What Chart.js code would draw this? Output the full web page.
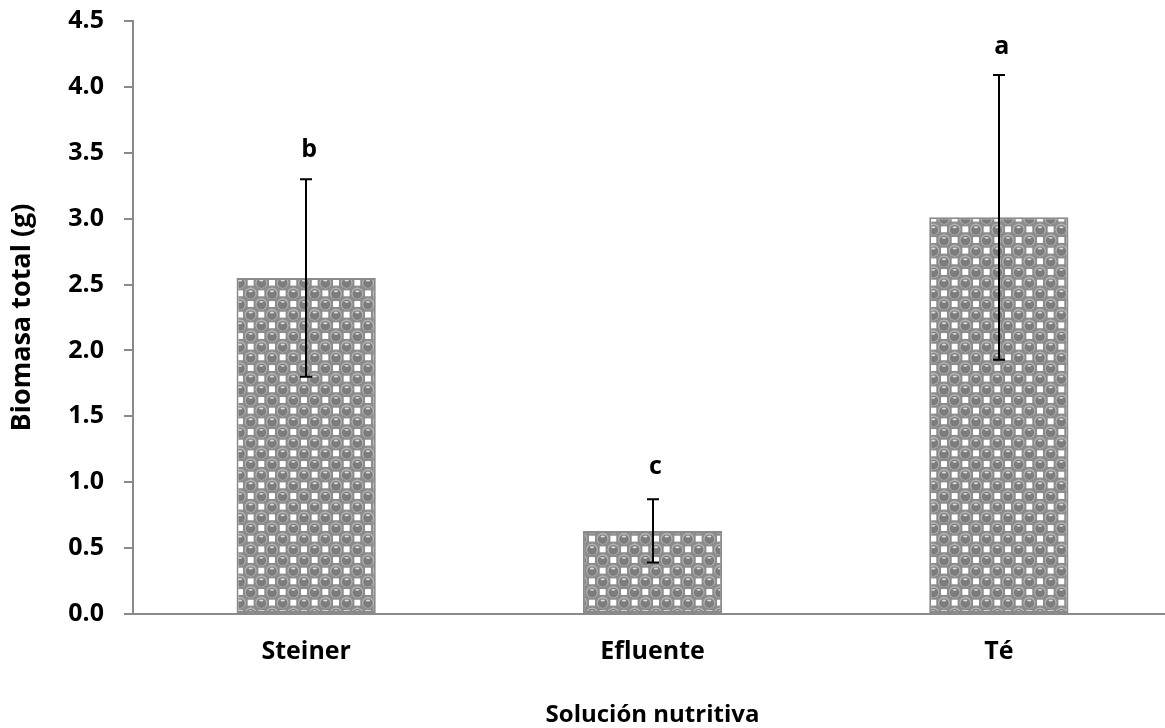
<!DOCTYPE html>
<html>
<head>
<meta charset="utf-8">
<script src="https://cdn.jsdelivr.net/npm/chart.js@4/dist/chart.umd.min.js"></script>
<style>
  html, body { margin: 0; padding: 0; overflow: hidden; background: #ffffff; }
  canvas { display: block; }
</style>
</head>
<body>
<canvas id="chart" width="1172" height="728"></canvas>
<script>
// Total biomass per nutrient solution (mean ± standard deviation)
const categories = ['Steiner', 'Efluente', 'Té'];
const biomass = [2.55, 0.63, 3.01];
const stdDev = [0.75, 0.24, 1.08];
// Mean-separation letters and the value level at which each is written
const groupLetters = ['b', 'c', 'a'];
const letterLevels = [3.52, 1.12, 4.30];
const yTickValues = [0, 0.5, 1.0, 1.5, 2.0, 2.5, 3.0, 3.5, 4.0, 4.5];

const FONT = "'Open Sans', 'Liberation Sans', sans-serif";

// "Sphere" fill pattern: 8x8 cell bitmap scaled up, three periods per tile
function spherePattern() {
  const size = 64;
  const c = document.createElement('canvas');
  c.width = size; c.height = size;
  const g = c.getContext('2d');
  const u = size / 24; // one pattern unit in px
  g.fillStyle = '#8c8c8c';
  g.fillRect(0, 0, size, size);
  for (let py = -1; py <= 3; py++) {
    for (let px = -1; px <= 3; px++) {
      const ox = px * 8 * u, oy = py * 8 * u;
      // white squares in the gaps
      g.fillStyle = '#ffffff';
      g.fillRect(ox + 4.9 * u, oy + 0.9 * u, 2.2 * u, 2.2 * u);
      g.fillRect(ox + 0.9 * u, oy + 4.9 * u, 2.2 * u, 2.2 * u);
      // spheres
      [[2, 2], [6, 6]].forEach(([cx, cy]) => {
        const x = ox + cx * u, y = oy + cy * u;
        g.beginPath();
        g.arc(x, y, 2.2 * u, 0, Math.PI * 2);
        g.fillStyle = '#b4b4b4';
        g.fill();
        g.beginPath();
        g.arc(x, y + 0.2 * u, 1.8 * u, 0, Math.PI * 2);
        g.fillStyle = '#7c7c7c';
        g.fill();
        g.beginPath();
        g.ellipse(x, y - 0.8 * u, 0.8 * u, 0.35 * u, 0, 0, Math.PI * 2);
        g.fillStyle = '#dcdcdc';
        g.fill();
      });
    }
  }
  return document.getElementById('chart').getContext('2d').createPattern(c, 'repeat');
}

// Error bars and group letters drawn through the value scale
const errorBarPlugin = {
  id: 'errorBars',
  afterDatasetsDraw(chart) {
    const ctx = chart.ctx;
    const yScale = chart.scales.y;
    const meta = chart.getDatasetMeta(0);
    ctx.save();
    ctx.strokeStyle = '#000000';
    ctx.lineWidth = 2;
    meta.data.forEach((bar, i) => {
      const x = Math.round(bar.x);
      const top = yScale.getPixelForValue(biomass[i] + stdDev[i]);
      const bot = yScale.getPixelForValue(biomass[i] - stdDev[i]);
      const cap = 6;
      ctx.beginPath();
      ctx.moveTo(x, top); ctx.lineTo(x, bot);
      ctx.moveTo(x - cap, top); ctx.lineTo(x + cap, top);
      ctx.moveTo(x - cap, bot); ctx.lineTo(x + cap, bot);
      ctx.stroke();
    });
    ctx.fillStyle = '#000000';
    ctx.font = 'bold 25px ' + FONT;
    ctx.textAlign = 'center';
    ctx.textBaseline = 'middle';
    meta.data.forEach((bar, i) => {
      ctx.fillText(groupLetters[i], bar.x + 3, yScale.getPixelForValue(letterLevels[i]));
    });
    ctx.restore();
  }
};

const ctx = document.getElementById('chart').getContext('2d');
new Chart(ctx, {
  type: 'bar',
  data: {
    labels: categories,
    datasets: [{
      label: 'Biomasa total (g)',
      data: biomass,
      backgroundColor: spherePattern(),
      borderColor: '#8a8a8a',
      borderWidth: 2,
      borderSkipped: false,
      barPercentage: 0.402,
      categoryPercentage: 1.0
    }]
  },
  options: {
    responsive: false,
    animation: false,
    devicePixelRatio: 1,
    layout: { padding: { left: 0, top: 21, right: 0, bottom: 0 } },
    plugins: {
      legend: { display: false },
      tooltip: { enabled: false }
    },
    scales: {
      x: {
        grid: { display: false },
        border: { display: true, color: '#8a8a8a', width: 2 },
        ticks: {
          color: '#000000',
          padding: 15,
          font: { family: FONT, size: 25, weight: 'bold' }
        },
        title: {
          display: true,
          text: 'Solución nutritiva',
          color: '#000000',
          font: { family: FONT, size: 24, weight: 'bold' },
          padding: { top: 0, bottom: -2 }
        },
        afterFit(scale) {
          scale.height = 728 - 614;
          scale.paddingLeft = 0;
          scale.paddingRight = 0;
        }
      },
      y: {
        min: 0,
        max: 4.5,
        afterBuildTicks(scale) { scale.ticks = yTickValues.map(v => ({ value: v })); },
        grid: {
          drawOnChartArea: false,
          drawTicks: true,
          tickLength: 9,
          color: '#8a8a8a',
          lineWidth: 2
        },
        border: { display: true, color: '#8a8a8a', width: 2 },
        ticks: {
          color: '#000000',
          padding: 20,
          font: { family: FONT, size: 25, weight: 'bold' },
          callback: v => Number(v).toFixed(1)
        },
        title: {
          display: true,
          text: 'Biomasa total (g)',
          color: '#000000',
          font: { family: FONT, size: 27, weight: 'bold' },
          padding: { top: 6, bottom: 0 }
        },
        afterFit(scale) {
          scale.width = 133;
          scale.paddingTop = 0;
          scale.paddingBottom = 0;
        }
      }
    }
  },
  plugins: [errorBarPlugin]
});
</script>
</body>
</html>
